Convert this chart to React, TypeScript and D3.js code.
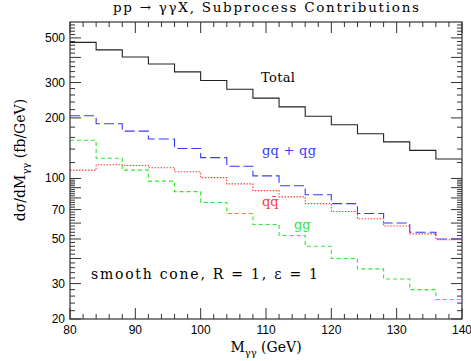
import React from 'react';
import * as d3 from 'd3';

// bin edges (GeV) and per-bin cross sections (fb/GeV)
const binEdges = [80, 84, 88, 92, 96, 100, 104, 108, 112, 116, 120, 124, 128, 132, 136, 140];
const total = [475, 436, 402, 371, 339, 307, 278, 251, 227, 204, 185, 167, 152, 138, 125];
const gqPlusQg = [205, 187, 172, 157, 141, 127, 115, 103, 92, 83, 75, 67, 60, 54, 50];
const qqbar = [110, 117, 116, 113, 108, 101, 94, 87, 81, 75, 68.5, 63, 58, 53, 49.6];
const gg = [155, 126, 110, 97, 86, 76, 67, 59, 52, 46, 40, 35.5, 31.6, 28, 25];

const xTickLabels = [80, 90, 100, 110, 120, 130, 140];
const yTickLabels = [20, 30, 50, 70, 100, 200, 300, 500];
const yLongTicks = [20, 30, 40, 50, 60, 70, 80, 90, 100, 200, 300, 400, 500];

const W = 471;
const H = 361;
const left = 70, right = 462, top = 22, bottom = 319;
const serif = '"DejaVu Serif", serif';
const sans = '"Liberation Sans", Arial, sans-serif';

const series = [
  { values: total, color: '#222', dash: null },
  { values: gqPlusQg, color: '#3a3aff', dash: '10,4' },
  { values: qqbar, color: '#ff3a3a', dash: '1.5,1.5' },
  { values: gg, color: '#2fe82f', dash: '4,3' },
];

const App = () => {
  const x = d3.scaleLinear().domain([80, 140]).range([left, right]);
  const y = d3.scaleLog().domain([20, 600]).range([bottom, top]);

  const line = d3.line<[number, number]>()
    .x((d) => x(d[0]))
    .y((d) => y(d[1]))
    .curve(d3.curveStepAfter);

  const stepPts = (vals: number[]): [number, number][] => {
    const pts = vals.map((v, i) => [binEdges[i], v] as [number, number]);
    pts.push([binEdges[binEdges.length - 1], vals[vals.length - 1]]);
    return pts;
  };

  const xMinor = d3.range(80, 141, 2).filter((v) => v % 10 !== 0);
  const yMinor = [...d3.range(22, 100, 2), ...d3.range(120, 600, 20)].filter((v) => !yLongTicks.includes(v));

  const tickColor = '#333';

  return (
    <svg width={W} height={H} style={{ position: 'absolute', left: 0, top: 0, background: '#fff' }}>
      {/* title */}
      <text x={266} y={12} textAnchor="middle" fontFamily={serif} fontSize={13.5} textLength={306} lengthAdjust="spacing">
        pp → γγX, Subprocess Contributions
      </text>

      {/* ticks */}
      <g stroke={tickColor} strokeWidth={1}>
        {xTickLabels.map((v) => (
          <g key={'xl' + v}>
            <line x1={x(v)} x2={x(v)} y1={bottom} y2={bottom - 11} />
            <line x1={x(v)} x2={x(v)} y1={top} y2={top + 11} />
          </g>
        ))}
        {xMinor.map((v) => (
          <g key={'xm' + v}>
            <line x1={x(v)} x2={x(v)} y1={bottom} y2={bottom - 5} />
            <line x1={x(v)} x2={x(v)} y1={top} y2={top + 5} />
          </g>
        ))}
        {yLongTicks.map((v) => (
          <g key={'yl' + v}>
            <line x1={left} x2={left + 11} y1={y(v)} y2={y(v)} />
            <line x1={right} x2={right - 11} y1={y(v)} y2={y(v)} />
          </g>
        ))}
        {yMinor.map((v) => (
          <g key={'ym' + v}>
            <line x1={left} x2={left + 5} y1={y(v)} y2={y(v)} />
            <line x1={right} x2={right - 5} y1={y(v)} y2={y(v)} />
          </g>
        ))}
      </g>

      {/* series */}
      {series.map((s, i) => (
        <path key={i} d={line(stepPts(s.values)) || ''} fill="none" stroke={s.color}
          strokeWidth={1.1} strokeDasharray={s.dash || undefined} />
      ))}

      {/* frame */}
      <rect x={left} y={top} width={right - left} height={bottom - top} fill="none" stroke={tickColor} strokeWidth={1.2} />

      {/* tick labels */}
      {xTickLabels.map((v) => (
        <text key={'xt' + v} x={x(v)} y={334} textAnchor="middle" fontFamily={sans} fontSize={12}>{v}</text>
      ))}
      {yTickLabels.map((v) => (
        <text key={'yt' + v} x={65} y={y(v) + 4} textAnchor="end" fontFamily={sans} fontSize={12}>{v}</text>
      ))}

      {/* axis titles */}
      <text x={266} y={352} textAnchor="middle" fontFamily={serif} fontSize={14}>
        M<tspan fontSize={10} dy={4}>γγ</tspan><tspan dy={-4}>  (GeV)</tspan>
      </text>
      <text transform="translate(25,160) rotate(-90)" textAnchor="middle" fontFamily={serif} fontSize={14}>
        dσ/dM<tspan fontSize={10} dy={4}>γγ</tspan><tspan dy={-4}>  (fb/GeV)</tspan>
      </text>

      {/* annotations */}
      <text x={261} y={82} fontFamily={serif} fontSize={13} textLength={34} lengthAdjust="spacing">Total</text>
      <text x={262} y={155} fontFamily={serif} fontSize={13} fill="#3a3aff" textLength={54} lengthAdjust="spacing">gq + qg</text>
      <text x={262} y={206} fontFamily={serif} fontSize={13} fill="#ff3a3a">q{'q\u0304'}</text>
      <text x={294} y={229} fontFamily={serif} fontSize={13} fill="#2fe82f">gg</text>
      <text x={91} y={279} fontFamily={serif} fontSize={14} textLength={227} lengthAdjust="spacing">
        smooth cone, R = 1, ε = 1
      </text>
    </svg>
  );
};

export default App;
